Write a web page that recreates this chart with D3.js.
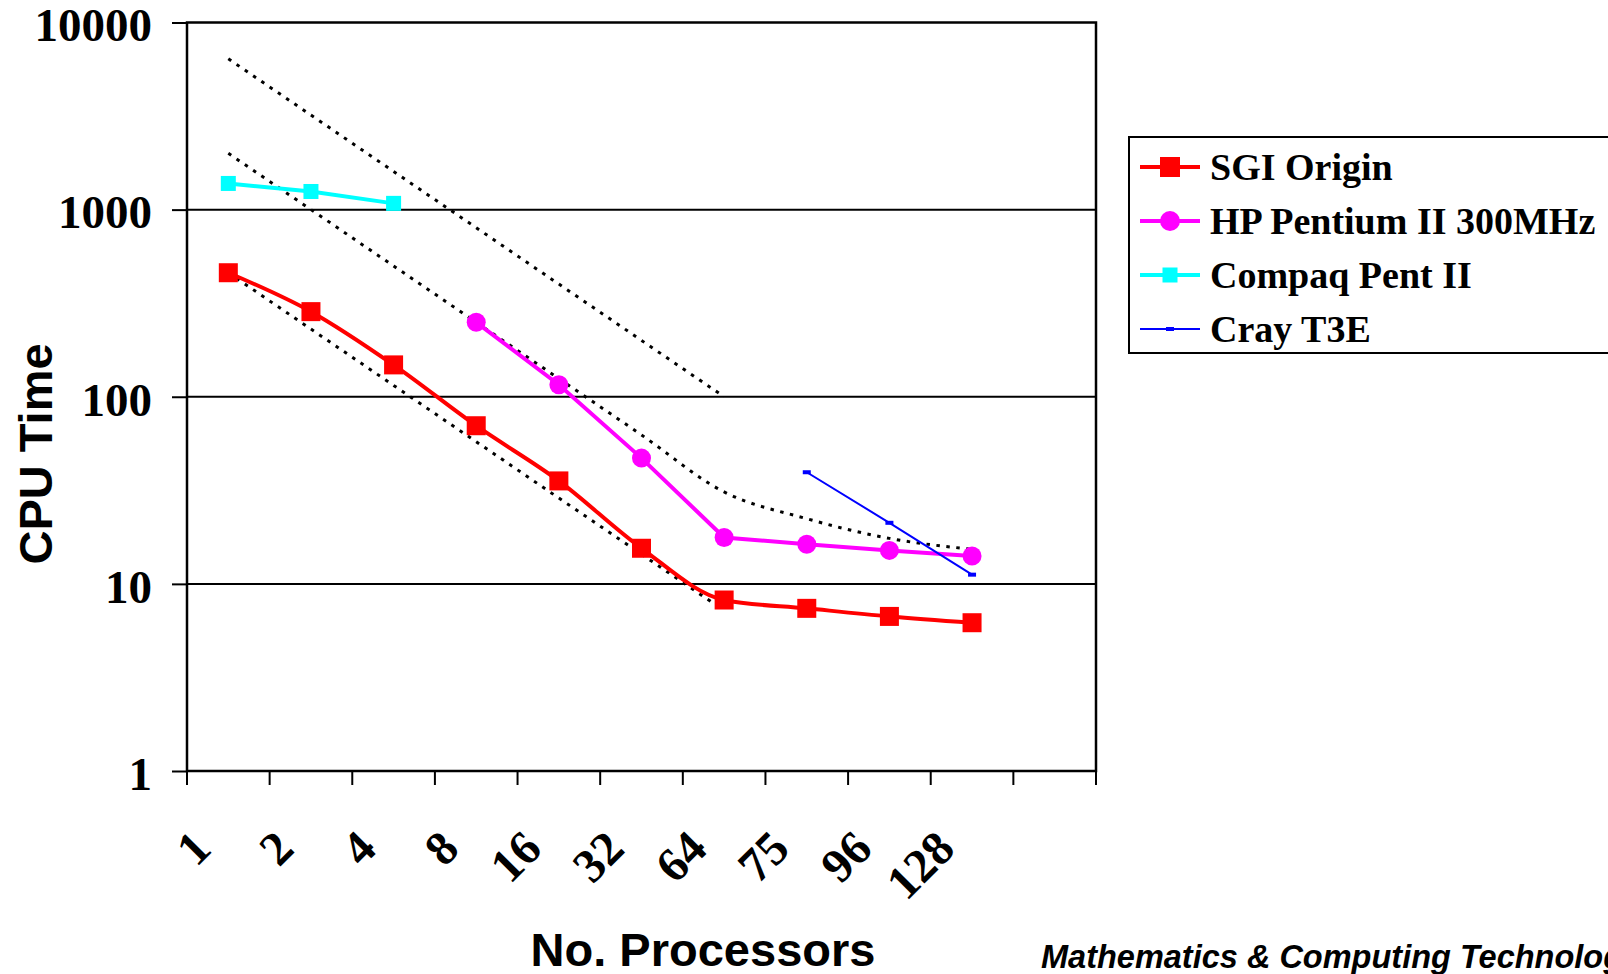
<!DOCTYPE html>
<html>
<head>
<meta charset="utf-8">
<script src="https://cdn.jsdelivr.net/npm/d3@7"></script>
<style>
  body { margin: 0; background: #fff; overflow: hidden; }
</style>
</head>
<body>
<div id="chart"></div>
<script>
// category labels (last band is empty, as in the original)
const categories = ['1', '2', '4', '8', '16', '32', '64', '75', '96', '128', ''];

// CPU time per processor count
const sgiOrigin  = [460, 285, 148, 70, 35.5, 15.5, 8.2, 7.4, 6.7, 6.2];
const hpPentium  = [null, null, null, 250, 116, 47, 17.7, 16.3, 15.1, 14.1];
const compaqPent = [1380, 1250, 1080];
const crayT3E    = [null, null, null, null, null, null, null, 39.5, 21.2, 11.2];

// ideal scaling guide lines (dotted)
const idealTop = [6400, 3200, 1600, 800, 400, 200, 100];
const idealHP  = [2000, 1000, 500, 250, 125, 62.5, 31, 22.3, 17.5, 15.3];
const idealSGI = [460, 230, 115, 57.5, 28.75, 14.4, 7.2];

const yTicks = [1, 10, 100, 1000, 10000];
const seriesNames = ['SGI Origin', 'HP Pentium II 300MHz', 'Compaq Pent II', 'Cray T3E'];

let width = 1608, height = 974;
let plot = { left: 187, right: 1096, top: 22.5, bottom: 771 };

const serif = "'Liberation Serif', 'Times New Roman', serif";
const sans = "'Liberation Sans', Arial, sans-serif";

let svg = d3.select('#chart')
  .append('svg')
  .attr('width', width)
  .attr('height', height)
  .style('background', '#fff');

let xScale = d3.scaleBand()
  .domain(categories)
  .range([plot.left, plot.right]);

let yScale = d3.scaleLog()
  .domain([1, 10000])
  .range([plot.bottom, plot.top]);

const cx = i => xScale(categories[i]) + xScale.bandwidth() / 2;

// horizontal gridlines
svg.append('g')
  .selectAll('line')
  .data(yTicks.slice(1, -1))
  .enter()
  .append('line')
  .attr('x1', plot.left)
  .attr('x2', plot.right)
  .attr('y1', d => yScale(d))
  .attr('y2', d => yScale(d))
  .attr('stroke', '#000')
  .attr('stroke-width', 2);

// y axis
let yAxis = svg.append('g')
  .attr('transform', `translate(${plot.left}, 0)`)
  .call(d3.axisLeft(yScale).tickValues(yTicks).tickFormat(d3.format('d')).tickSize(15).tickPadding(20));
yAxis.select('.domain').remove();
yAxis.selectAll('line').attr('stroke', '#000').attr('stroke-width', 2);
yAxis.selectAll('text')
  .attr('dy', '0.39em')
  .style('font-family', serif)
  .style('font-weight', 'bold')
  .style('font-size', '47px')
  .attr('fill', '#000');

// x ticks between categories
let tickXs = categories.map(c => xScale(c)).concat([plot.right]);
svg.append('g')
  .selectAll('line')
  .data(tickXs)
  .enter()
  .append('line')
  .attr('x1', d => d)
  .attr('x2', d => d)
  .attr('y1', plot.bottom)
  .attr('y2', plot.bottom + 14)
  .attr('stroke', '#000')
  .attr('stroke-width', 2);

// x labels, rotated
svg.append('g')
  .selectAll('text')
  .data(categories.filter(c => c !== ''))
  .enter()
  .append('text')
  .attr('transform', (d, i) => `translate(${cx(i) - 15}, ${851}) rotate(-45)`)
  .attr('text-anchor', 'end')
  .style('font-family', serif)
  .style('font-weight', 'bold')
  .style('font-size', '48px')
  .text(d => d);

// plot frame
svg.append('rect')
  .attr('x', plot.left)
  .attr('y', plot.top)
  .attr('width', plot.right - plot.left)
  .attr('height', plot.bottom - plot.top)
  .attr('fill', 'none')
  .attr('stroke', '#000')
  .attr('stroke-width', 2.5);

// line generators
const toPts = arr => arr.map((v, i) => ({ i, v })).filter(d => d.v != null);
let smoothLine = d3.line()
  .x(d => cx(d.i))
  .y(d => yScale(d.v))
  .curve(d3.curveMonotoneX);
let straightLine = d3.line()
  .x(d => cx(d.i))
  .y(d => yScale(d.v));

// dotted ideal lines
[idealTop, idealHP, idealSGI].forEach(arr => {
  svg.append('path')
    .datum(toPts(arr))
    .attr('d', smoothLine)
    .attr('fill', 'none')
    .attr('stroke', '#000')
    .attr('stroke-width', 3)
    .attr('stroke-dasharray', '3.5,6.5');
});

// SGI Origin
svg.append('path')
  .datum(toPts(sgiOrigin))
  .attr('d', smoothLine)
  .attr('fill', 'none')
  .attr('stroke', '#ff0000')
  .attr('stroke-width', 4);
svg.append('g')
  .selectAll('rect')
  .data(toPts(sgiOrigin))
  .enter()
  .append('rect')
  .attr('x', d => cx(d.i) - 9.5)
  .attr('y', d => yScale(d.v) - 9.5)
  .attr('width', 19)
  .attr('height', 19)
  .attr('fill', '#ff0000');

// HP Pentium II
svg.append('path')
  .datum(toPts(hpPentium))
  .attr('d', straightLine)
  .attr('fill', 'none')
  .attr('stroke', '#ff00ff')
  .attr('stroke-width', 4);
svg.append('g')
  .selectAll('circle')
  .data(toPts(hpPentium))
  .enter()
  .append('circle')
  .attr('cx', d => cx(d.i))
  .attr('cy', d => yScale(d.v))
  .attr('r', 9.5)
  .attr('fill', '#ff00ff');

// Compaq Pent II
svg.append('path')
  .datum(toPts(compaqPent))
  .attr('d', straightLine)
  .attr('fill', 'none')
  .attr('stroke', '#00ffff')
  .attr('stroke-width', 4);
svg.append('g')
  .selectAll('rect')
  .data(toPts(compaqPent))
  .enter()
  .append('rect')
  .attr('x', d => cx(d.i) - 7.5)
  .attr('y', d => yScale(d.v) - 7.5)
  .attr('width', 15)
  .attr('height', 15)
  .attr('fill', '#00ffff');

// Cray T3E
svg.append('path')
  .datum(toPts(crayT3E))
  .attr('d', straightLine)
  .attr('fill', 'none')
  .attr('stroke', '#0000ff')
  .attr('stroke-width', 2);
svg.append('g')
  .selectAll('rect')
  .data(toPts(crayT3E))
  .enter()
  .append('rect')
  .attr('x', d => cx(d.i) - 4)
  .attr('y', d => yScale(d.v) - 2)
  .attr('width', 8)
  .attr('height', 4)
  .attr('fill', '#0000ff');

// axis titles
svg.append('text')
  .attr('transform', `translate(52, 454) rotate(-90)`)
  .attr('text-anchor', 'middle')
  .style('font-family', sans)
  .style('font-weight', 'bold')
  .style('font-size', '47px')
  .text('CPU Time');

svg.append('text')
  .attr('x', 703)
  .attr('y', 966)
  .attr('text-anchor', 'middle')
  .style('font-family', sans)
  .style('font-weight', 'bold')
  .style('font-size', '47px')
  .text('No. Processors');

svg.append('text')
  .attr('x', 1041)
  .attr('y', 968)
  .style('font-family', sans)
  .style('font-weight', 'bold')
  .style('font-style', 'italic')
  .style('font-size', '32.5px')
  .text('Mathematics & Computing Technology');

// legend
let legend = svg.append('g').attr('transform', 'translate(1129, 137)');
legend.append('rect')
  .attr('x', 0)
  .attr('y', 0)
  .attr('width', 520)
  .attr('height', 216)
  .attr('fill', '#fff')
  .attr('stroke', '#000')
  .attr('stroke-width', 2);

const legColors = ['#ff0000', '#ff00ff', '#00ffff', '#0000ff'];
seriesNames.forEach((name, i) => {
  let y = 30 + i * 54;
  legend.append('line')
    .attr('x1', 11).attr('x2', 71)
    .attr('y1', y).attr('y2', y)
    .attr('stroke', legColors[i])
    .attr('stroke-width', i === 3 ? 2 : 4);
  if (i === 0) {
    legend.append('rect').attr('x', 31).attr('y', y - 10).attr('width', 20).attr('height', 20).attr('fill', legColors[i]);
  } else if (i === 1) {
    legend.append('circle').attr('cx', 41).attr('cy', y).attr('r', 10).attr('fill', legColors[i]);
  } else if (i === 2) {
    legend.append('rect').attr('x', 33.5).attr('y', y - 7.5).attr('width', 15).attr('height', 15).attr('fill', legColors[i]);
  } else {
    legend.append('rect').attr('x', 37).attr('y', y - 2).attr('width', 8).attr('height', 4).attr('fill', legColors[i]);
  }
  legend.append('text')
    .attr('x', 81)
    .attr('y', y)
    .attr('dy', '0.35em')
    .style('font-family', serif)
    .style('font-weight', 'bold')
    .style('font-size', '38px')
    .text(name);
});
</script>
</body>
</html>
